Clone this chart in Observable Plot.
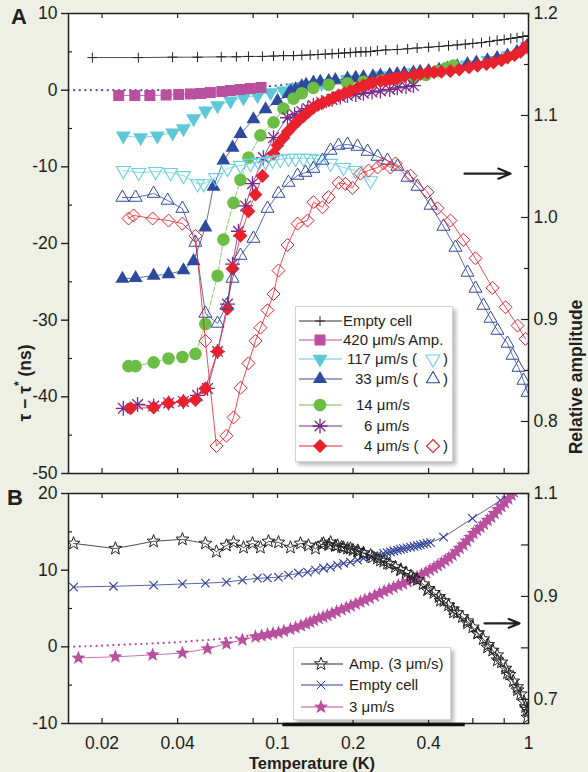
<!DOCTYPE html>
<html><head><meta charset="utf-8">
<script src="https://cdn.jsdelivr.net/npm/d3@7"></script>
<script src="https://cdn.jsdelivr.net/npm/@observablehq/plot@0.6"></script>
<style>
html,body{margin:0;padding:0;background:#eef0e5;}
#wrap{position:relative;width:588px;height:772px;background:#eef0e5;overflow:hidden;
  font-family:"Liberation Sans",Arial,Helvetica,sans-serif;color:#231f20;}
#wrap > svg text{font-size:17.5px;font-family:"Liberation Sans",Arial,Helvetica,sans-serif;}
.txt{position:absolute;white-space:nowrap;font-weight:bold;line-height:1;}
.rot{transform:translate(-50%,-50%) rotate(-90deg);}
.legend{position:absolute;background:#fff;border:1px solid #d4d4d4;box-shadow:3px 3px 4px rgba(0,0,0,0.28);}
</style></head>
<body><div id="wrap"></div>
<script>
// ---------------- DATA ----------------
const xDomain = [0.0147, 1];
const xTickVals = [0.02, 0.04, 0.08, 0.1, 0.2, 0.4, 0.6, 0.8, 1];
const xLabelVals = [0.02, 0.04, 0.1, 0.2, 0.4, 1];

const tauDomainA = [-50, 10];
const tauTicksA = [-50, -40, -30, -20, -10, 0, 10];
const tauMinorA = [-45, -35, -25, -15, -5, 5];
const ampDomainA = [0.749, 1.2];
const ampTicksA = [0.8, 0.9, 1.0, 1.1, 1.2];
const ampMinorA = [0.85, 0.95, 1.05, 1.15];

const tauDomainB = [-10, 20];
const tauTicksB = [-10, 0, 10, 20];
const tauMinorB = [-5, 5, 15];
const ampDomainB = [0.653, 1.1];
const ampLabelB = [0.7, 0.9, 1.1];
const ampMinorB = [0.8, 1.0];

// Panel A — left axis (tau - tau*, ns)
const emptyA_T = [0.0183,0.0279,0.0382,0.048,0.0597,0.0686,0.0766,0.0871,0.0964,0.1057,0.1158,0.125,0.135,0.145,0.155,0.165,0.175,0.185,0.195,0.205,0.215,0.225,0.235,0.25,0.27,0.3,0.33,0.36,0.4,0.44,0.48,0.52,0.56,0.6,0.65,0.7,0.75,0.8,0.85,0.9,0.95,1.0];
const emptyA_tau = [4.25,4.25,4.3,4.3,4.35,4.35,4.4,4.4,4.45,4.5,4.5,4.55,4.6,4.65,4.7,4.75,4.8,4.85,4.9,4.95,5.0,5.0,5.05,5.15,5.25,5.3,5.4,5.5,5.6,5.7,5.8,5.9,6.0,6.1,6.2,6.35,6.5,6.6,6.75,6.85,7.0,7.1];

const dotA_T = [0.0147,0.03,0.05,0.07,0.085,0.1,0.116,0.14,0.17,0.2];
const dotA_tau = [0,0,0.05,0.2,0.4,0.6,0.85,1.1,1.4,1.7];

const c117_T = [0.0243,0.0285,0.0332,0.0382,0.0422,0.0463,0.0516,0.0577,0.065,0.0732,0.0832,0.0938,0.1056,0.1158,0.13,0.15,0.19,0.26,0.35,0.48,0.57,0.69,0.83,0.99];
const c117_tau = [-5.95,-6.2,-5.95,-5.55,-5.0,-3.7,-2.7,-2.0,-1.4,-1.0,-0.7,-0.3,-0.1,0.3,0.6,0.9,1.4,1.9,2.3,2.8,3.3,3.9,4.5,5.7];

const b33_T = [0.0241,0.0272,0.0321,0.0368,0.0422,0.0463,0.0516,0.0556,0.0609,0.0662,0.0712,0.0802,0.0896,0.1,0.1106,0.113,0.118,0.125,0.13,0.139,0.148,0.16,0.17,0.19,0.205,0.22,0.24,0.257,0.28,0.3,0.32,0.348,0.37,0.4,0.44,0.476,0.52,0.571,0.62,0.686,0.75,0.825,0.9,0.95,0.99];
const b33_tau = [-24.6,-24.5,-24.2,-24.0,-23.5,-22.3,-17.9,-12.6,-9.2,-7.5,-5.7,-3.8,-2.5,-1.4,-0.5,-0.2,0.1,0.5,0.7,1.0,1.1,1.2,1.3,1.5,1.6,1.7,1.8,1.9,2.0,2.1,2.2,2.3,2.4,2.5,2.65,2.8,3.1,3.4,3.6,3.9,4.2,4.5,5.0,5.4,5.8];

const g14_T = [0.0255,0.0272,0.0321,0.0368,0.0418,0.0471,0.0516,0.0577,0.0609,0.0668,0.0712,0.0766,0.0855,0.0964,0.1056,0.1158,0.125,0.139,0.16,0.19,0.22,0.26,0.3,0.348,0.39,0.434,0.47,0.503];
const g14_tau = [-36.0,-36.0,-35.5,-35.0,-34.8,-34.4,-30.5,-24.2,-19.5,-14.7,-11.7,-8.8,-5.9,-4.2,-2.4,-1.1,-0.4,0.3,0.7,0.9,1.1,1.3,1.5,1.6,2.0,2.5,2.9,3.2];

const p6_T = [0.0243,0.0277,0.0321,0.0368,0.0422,0.048,0.0526,0.0577,0.0632,0.0662,0.0699,0.0746,0.0795,0.0879,0.0964,0.1096,0.117,0.125,0.132,0.139,0.15,0.165,0.178,0.19,0.205,0.22,0.238,0.257,0.28,0.3,0.325,0.348];
const p6_tau = [-41.5,-41.0,-41.2,-40.8,-40.6,-39.8,-38.9,-34.1,-27.9,-22.7,-18.4,-15.1,-12.2,-8.8,-6.2,-3.6,-3.2,-2.8,-2.4,-2.0,-1.6,-1.2,-0.9,-0.7,-0.55,-0.4,-0.25,-0.1,0.1,0.3,0.45,0.6];

const r4_T = [0.026,0.0321,0.0368,0.0422,0.0471,0.0516,0.0577,0.0632,0.0662,0.0712,0.0766,0.0817,0.0871,0.0964,0.1,0.1056,0.11,0.1158,0.121,0.127,0.133,0.139,0.145,0.152,0.16,0.1671,0.175,0.185,0.195,0.2084,0.22,0.23,0.24,0.2572,0.27,0.28,0.29,0.3006,0.32,0.35,0.37,0.396,0.42,0.45,0.4889,0.53,0.58,0.6262,0.68,0.7254,0.78,0.8249,0.88,0.93,0.973];
const r4_tau = [-41.5,-41.4,-40.8,-40.6,-40.4,-38.9,-34.1,-28.5,-23.3,-19.0,-15.8,-13.6,-11.2,-8.3,-7.2,-6.2,-5.4,-4.6,-4.0,-3.4,-2.8,-2.3,-1.9,-1.6,-1.3,-1.0,-0.7,-0.4,-0.1,0.3,0.6,0.8,1.0,1.2,1.3,1.4,1.5,1.6,1.8,2.0,2.1,2.3,2.35,2.4,2.5,2.7,3.0,3.2,3.4,3.6,3.9,4.25,4.6,5.0,5.6];

// Panel A — right axis (relative amplitude)
const sq420_T = [0.0233,0.027,0.031,0.036,0.0404,0.045,0.0495,0.054,0.06,0.065,0.071,0.078,0.086];
const sq420_amp = [1.1196,1.1196,1.1196,1.1201,1.1206,1.1211,1.1216,1.1225,1.1235,1.1245,1.1255,1.1265,1.1275];

const c117a_T = [0.0243,0.028,0.0327,0.0375,0.0422,0.048,0.0508,0.0567,0.0632,0.0712,0.078,0.084,0.0896,0.0955,0.1026,0.1106,0.118,0.127,0.1353,0.1456,0.1627,0.1832,0.2046,0.2347];
const c117a_amp = [1.046,1.044,1.045,1.044,1.041,1.033,1.033,1.039,1.048,1.051,1.053,1.054,1.055,1.056,1.057,1.058,1.058,1.058,1.058,1.057,1.053,1.049,1.046,1.036];

const b33a_T = [0.0241,0.0272,0.0321,0.0365,0.0418,0.0471,0.0516,0.0577,0.0626,0.0662,0.0712,0.0802,0.0912,0.1009,0.1106,0.1202,0.1293,0.139,0.1511,0.1627,0.175,0.19,0.2084,0.2284,0.2503,0.2743,0.3006,0.3296,0.3612,0.4071,0.4585,0.5118,0.5715,0.6148,0.6617,0.7058,0.7523,0.8249,0.8636,0.9124,0.955,0.9909];
const b33a_amp = [1.0196,1.0196,1.0235,1.0167,1.0088,0.9755,0.9059,0.8961,0.9137,0.9402,0.9627,0.9794,1.0088,1.0235,1.0343,1.0412,1.0441,1.048,1.0559,1.0657,1.0706,1.0716,1.0696,1.0647,1.0598,1.0559,1.05,1.0392,1.0304,1.0118,0.9912,0.9706,0.9461,0.9304,0.9137,0.901,0.8892,0.8765,0.8647,0.8529,0.8402,0.8284];

const r4a_T = [0.0255,0.0267,0.0318,0.0368,0.0418,0.0471,0.0516,0.0571,0.0626,0.0668,0.0712,0.0766,0.0817,0.0855,0.0912,0.0964,0.1009,0.1096,0.1202,0.1317,0.139,0.1511,0.1596,0.175,0.1866,0.1989,0.2141,0.2305,0.2503,0.2644,0.2819,0.2953,0.3388,0.396,0.4339,0.4889,0.55,0.6148,0.7187,0.81,0.9042,0.973];
const r4a_amp = [0.999,1.002,0.999,0.997,0.994,0.982,0.879,0.776,0.786,0.804,0.833,0.857,0.879,0.892,0.909,0.925,0.948,0.973,0.994,0.997,1.015,1.010,1.020,1.034,1.033,1.029,1.043,1.046,1.049,1.053,1.049,1.053,1.041,1.025,1.009,0.997,0.978,0.960,0.931,0.912,0.894,0.881];

// Panel B — left axis
const emptyB_T = [0.0154,0.0222,0.0321,0.0418,0.0516,0.0626,0.0725,0.0832,0.0912,0.1009,0.1106,0.1213,0.1317,0.1417,0.1525,0.1627,0.1734,0.1832,0.1953,0.2084,0.2201,0.2347,0.2503,0.2644,0.273,0.2819,0.291,0.3006,0.309,0.3177,0.328,0.3388,0.35,0.3612,0.371,0.3817,0.394,0.4071,0.4585,0.598,0.7735,0.8713];
const emptyB_tau = [7.8,7.9,8.05,8.2,8.3,8.45,8.7,8.95,9.0,9.1,9.35,9.6,9.75,10.0,10.25,10.4,10.65,10.9,11.05,11.3,11.55,11.7,11.95,12.2,12.3,12.4,12.5,12.6,12.7,12.8,12.9,13.0,13.1,13.2,13.3,13.4,13.5,13.6,14.3,16.75,19.1,20.1];

const starB_T = [0.0161,0.0226,0.0318,0.0418,0.0526,0.0626,0.0725,0.0817,0.0865,0.0912,0.096,0.1009,0.106,0.1126,0.118,0.124,0.13,0.135,0.14,0.146,0.152,0.158,0.165,0.172,0.18,0.188,0.196,0.205,0.214,0.223,0.233,0.244,0.255,0.266,0.278,0.29,0.303,0.316,0.33,0.345,0.36,0.375,0.39,0.405,0.42,0.435,0.45,0.466,0.482,0.498,0.515,0.532,0.55,0.568,0.586,0.604,0.624,0.644,0.665,0.687,0.71,0.733,0.757,0.78,0.805,0.83,0.855];
const starB_tau = [-1.45,-1.3,-1.05,-0.8,-0.25,0.4,0.9,1.3,1.45,1.6,1.75,1.85,2.05,2.3,2.5,2.75,3.0,3.2,3.45,3.7,3.9,4.1,4.35,4.6,4.85,5.1,5.35,5.6,5.85,6.1,6.35,6.65,6.95,7.25,7.5,7.75,8.0,8.25,8.5,8.8,9.1,9.4,9.7,10.0,10.3,10.6,10.9,11.25,11.6,11.95,12.4,12.85,13.3,13.8,14.3,14.8,15.2,15.6,16.0,16.5,16.9,17.4,17.9,18.3,18.8,19.3,19.8];

const dotB_T = [0.0147,0.02,0.03,0.04,0.05,0.06,0.07,0.08,0.09];
const dotB_tau = [0,0.15,0.4,0.6,0.85,1.05,1.3,1.5,1.7];

// Panel B — right axis (amplitude, 3 µm/s), two sweeps
const ampB_T = [0.0154,0.0226,0.0321,0.0418,0.0516,0.0571,0.0626,0.0668,0.0732,0.0795,0.0855,0.092,0.1009,0.1126,0.1235,0.1329,0.1417,0.1525,0.1627,0.1734,0.1832,0.1953,0.2084,0.2201,0.239,0.2572,0.2743,0.309,0.3482,0.396,0.4459,0.5027,0.5715,0.6262,0.6867,0.7523,0.8249,0.9042,0.973,0.9909];
const ampB_amp = [1.003,0.993,1.007,1.011,1.003,0.987,0.999,1.005,0.995,1.003,0.995,1.007,1.005,0.995,1.003,0.999,0.993,1.003,1.005,0.999,0.995,0.993,0.989,0.984,0.976,0.970,0.964,0.951,0.935,0.912,0.892,0.869,0.848,0.828,0.801,0.776,0.751,0.718,0.685,0.665];
const ampB2_T = [0.15,0.16,0.17,0.18,0.19,0.2,0.21,0.22,0.235,0.25,0.265,0.28,0.295,0.31,0.325,0.34,0.36,0.38,0.4,0.42,0.44,0.46,0.48,0.5,0.52,0.545,0.57,0.6,0.63,0.66,0.69,0.72,0.75,0.78,0.81,0.84,0.87,0.9,0.93,0.96,0.99,1.0];
const ampB2_amp = [1.001,1.000,0.998,0.996,0.993,0.990,0.987,0.984,0.980,0.974,0.968,0.963,0.957,0.952,0.946,0.940,0.932,0.924,0.915,0.907,0.899,0.891,0.883,0.875,0.868,0.860,0.852,0.840,0.829,0.817,0.806,0.795,0.786,0.772,0.760,0.748,0.735,0.724,0.710,0.695,0.680,0.676];

// annotations
const arrowA = [{x1: 0.556, x2: 0.848, y: 1.043}];
const arrowB = [{x1: 0.668, x2: 0.921, y: 0.8476}];
const bottomBarB = [{from: 0.105, to: 0.56, y: -10}];

// ---------------- STYLE ----------------
const ink = "#231f20";
const font = "'Liberation Sans', Arial, Helvetica, sans-serif";
const col = {cyan:"#5ec8d8", cyanOpen:"#6ccfdf", blue:"#2e4a9e", green:"#6cbd45", purple:"#7a2a8a",
  red:"#e9212c", magenta:"#b94f9f", blueB:"#2f3d96"};

const W = 588, ML = 68, MR = 60;
const plotW = W - ML - MR;
const decadePx = plotW / Math.log10(xDomain[1] / xDomain[0]);

const zip = (xs, ys) => xs.map((x, i) => ({T: x, v: ys[i]}));

const h = s => Math.sqrt(s / Math.PI);
const SYM = {
  square: {draw(c, s){ const r=h(s); c.moveTo(-r,-r); c.lineTo(r,-r); c.lineTo(r,r); c.lineTo(-r,r); c.closePath(); }},
  triUp: {draw(c, s){ const r=h(s), H=r*Math.sqrt(3); c.moveTo(0,-2*H/3); c.lineTo(r,H/3); c.lineTo(-r,H/3); c.closePath(); }},
  triDown: {draw(c, s){ const r=h(s), H=r*Math.sqrt(3); c.moveTo(0,2*H/3); c.lineTo(r,-H/3); c.lineTo(-r,-H/3); c.closePath(); }},
  diamond: {draw(c, s){ const r=h(s); c.moveTo(0,-r); c.lineTo(r,0); c.lineTo(0,r); c.lineTo(-r,0); c.closePath(); }},
  plus: {draw(c, s){ const r=h(s); c.moveTo(-r,0); c.lineTo(r,0); c.moveTo(0,-r); c.lineTo(0,r); }},
  times: {draw(c, s){ const r=h(s)/Math.SQRT2; c.moveTo(-r,-r); c.lineTo(r,r); c.moveTo(-r,r); c.lineTo(r,-r); }},
  ast: {draw(c, s){ const r=h(s), d=r/Math.SQRT2; c.moveTo(-r,0); c.lineTo(r,0); c.moveTo(0,-r); c.lineTo(0,r);
        c.moveTo(-d,-d); c.lineTo(d,d); c.moveTo(-d,d); c.lineTo(d,-d); }},
  star: {draw(c, s){ const R=h(s), ri=R*0.42; for (let i=0;i<10;i++){ const a=-Math.PI/2+i*Math.PI/5, rr=i%2?ri:R;
        const x=rr*Math.cos(a), y=rr*Math.sin(a); if(i===0) c.moveTo(x,y); else c.lineTo(x,y);} c.closePath(); }}
};

function series(data, o) {
  const out = [];
  if (o.line !== false) out.push(Plot.line(data, {x:"T", y:"v", stroke:o.lineColor||o.color, strokeWidth:o.lw||0.8,
      strokeDasharray:o.dash, clip:true}));
  out.push(Plot.dot(data, {x:"T", y:"v", symbol:SYM[o.symbol]||o.symbol, r:o.r,
      fill:o.fill||"none", stroke:o.stroke||"none", strokeWidth:o.sw||1, clip:true}));
  return out;
}
function dotted(data, color) {
  return Plot.line(data, {x:"T", y:"v", stroke:color, strokeWidth:2.2, strokeDasharray:"0.1,5.5",
    strokeLinecap:"round", clip:true});
}

function frameTicks(yDom, plotH, yTicks, yMinor) {
  const dy = (yDom[1]-yDom[0]) * 5 / plotH;
  const xIn = xDomain[0] * 10 ** (4 / decadePx);
  return [
    Plot.ruleX(xTickVals, {x:d=>d, y1:yDom[0], y2:yDom[0]+dy, stroke:ink, strokeWidth:1.2}),
    Plot.ruleX(xTickVals, {x:d=>d, y1:yDom[1], y2:yDom[1]-dy, stroke:ink, strokeWidth:1.2}),
    Plot.ruleY(yMinor, {y:d=>d, x1:xDomain[0], x2:xIn, stroke:ink, strokeWidth:1.2}),
    Plot.axisY({anchor:"left", ticks:yTicks, tickSize:7, tickPadding:4, tickFormat:d=>String(d), label:null,
      fontSize:17.5, stroke:ink, strokeWidth:1.4, fill:ink})
  ];
}
function rightTicks(major, minor, fmtTicks) {
  const xMaj = xDomain[1] / 10 ** (7 / decadePx), xMin = xDomain[1] / 10 ** (4 / decadePx);
  return [
    Plot.ruleY(major, {y:d=>d, x1:xDomain[1], x2:xMaj, stroke:ink, strokeWidth:1.2}),
    Plot.ruleY(minor, {y:d=>d, x1:xDomain[1], x2:xMin, stroke:ink, strokeWidth:1.2}),
    Plot.axisY({anchor:"right", ticks:fmtTicks, tickSize:0, tickPadding:5, tickFormat:d3.format(".1f"), label:null,
      fontSize:17.5, fill:ink})
  ];
}
const styleObj = {background:"transparent", fontFamily:font, fontSize:"17.5px", color:ink, overflow:"visible"};

// ---------------- PANEL A ----------------
const hA = 480, mtA = 13, mbA = 7, plotHA = hA - mtA - mbA;
const aLeft = Plot.plot({
  width:W, height:hA, marginLeft:ML, marginRight:MR, marginTop:mtA, marginBottom:mbA, style:styleObj,
  x:{type:"log", domain:xDomain, axis:null}, y:{domain:tauDomainA, axis:null, label:null},
  marks:[
    Plot.frame({fill:"white", stroke:"none"}),
    ...series(zip(emptyA_T, emptyA_tau), {color:"#222", symbol:"plus", r:5, stroke:"#222", sw:1}),
    dotted(zip(dotA_T, dotA_tau), "#3a55a8"),
    ...series(zip(c117_T, c117_tau), {color:col.cyan, symbol:"triDown", r:7.5, fill:col.cyan}),
    ...series(zip(b33_T, b33_tau), {color:col.blue, symbol:"triUp", r:7, fill:col.blue}),
    ...series(zip(g14_T, g14_tau), {color:col.green, symbol:"circle", r:6.3, fill:col.green, dash:"5,2"}),
    ...series(zip(p6_T, p6_tau), {color:col.purple, symbol:"ast", r:7.5, stroke:col.purple, sw:1.3}),
    ...series(zip(r4_T, r4_tau), {color:col.red, symbol:"diamond", r:7, fill:col.red}),
    ...frameTicks(tauDomainA, plotHA, tauTicksA, tauMinorA)
  ]
});
const aRight = Plot.plot({
  width:W, height:hA, marginLeft:ML, marginRight:MR, marginTop:mtA, marginBottom:mbA, style:styleObj,
  x:{type:"log", domain:xDomain, axis:null}, y:{domain:ampDomainA, axis:null, label:null},
  marks:[
    ...series(zip(sq420_T, sq420_amp), {color:col.magenta, symbol:"square", r:5.5, fill:col.magenta}),
    ...series(zip(c117a_T, c117a_amp), {color:col.cyanOpen, symbol:"triDown", r:7, stroke:col.cyanOpen, sw:1.1}),
    ...series(zip(b33a_T, b33a_amp), {color:col.blue, symbol:"triUp", r:6.5, stroke:col.blue, sw:1}),
    ...series(zip(r4a_T, r4a_amp), {color:col.red, symbol:"diamond", r:6.5, stroke:col.red, sw:1}),
    Plot.arrow(arrowA, {x1:"x1", x2:"x2", y1:"y", y2:"y", stroke:ink, strokeWidth:2.2, headLength:9, headAngle:45}),
    ...rightTicks(ampTicksA, ampMinorA, ampTicksA),
    Plot.frame({stroke:ink, strokeWidth:1.5})
  ]
});

// ---------------- PANEL B ----------------
const hB = 292, mtB = 13, mbB = 49, plotHB = hB - mtB - mbB;
const bLeft = Plot.plot({
  width:W, height:hB, marginLeft:ML, marginRight:MR, marginTop:mtB, marginBottom:mbB, style:styleObj,
  x:{type:"log", domain:xDomain, axis:null}, y:{domain:tauDomainB, axis:null, label:null},
  marks:[
    Plot.frame({fill:"white", stroke:"none"}),
    dotted(zip(dotB_T, dotB_tau), col.magenta),
    ...series(zip(emptyB_T, emptyB_tau), {color:col.blueB, symbol:"times", r:6, stroke:col.blueB, sw:1.1}),
    ...series(zip(starB_T, starB_tau), {color:col.magenta, symbol:"star", r:7.5, fill:col.magenta}),
    ...frameTicks(tauDomainB, plotHB, tauTicksB, tauMinorB),
    Plot.axisX({anchor:"bottom", ticks:xLabelVals, tickSize:0, tickPadding:13.5, tickFormat:d=>String(d), label:null,
      fontSize:17.5, fill:ink})
  ]
});
const bRight = Plot.plot({
  width:W, height:hB, marginLeft:ML, marginRight:MR, marginTop:mtB, marginBottom:mbB, style:styleObj,
  x:{type:"log", domain:xDomain, axis:null}, y:{domain:ampDomainB, axis:null, label:null},
  marks:[
    ...series(zip(ampB_T, ampB_amp), {color:"#222", symbol:"star", r:6.8, stroke:"#222", sw:1}),
    ...series(zip(ampB2_T, ampB2_amp), {color:"#222", symbol:"star", r:6.8, stroke:"#222", sw:1}),
    Plot.arrow(arrowB, {x1:"x1", x2:"x2", y1:"y", y2:"y", stroke:ink, strokeWidth:2.2, headLength:9, headAngle:45}),
    ...rightTicks(ampLabelB.concat(ampMinorB), [], ampLabelB),
    Plot.frame({stroke:ink, strokeWidth:1.5})
  ]
});
const bBar = Plot.plot({
  width:W, height:hB, marginLeft:ML, marginRight:MR, marginTop:mtB, marginBottom:mbB, style:styleObj,
  x:{type:"log", domain:xDomain, axis:null}, y:{domain:tauDomainB, axis:null, label:null},
  marks:[Plot.ruleY(bottomBarB, {y:"y", x1:"from", x2:"to", stroke:"#111", strokeWidth:3.5, dy:1})]
});

const wrap = document.getElementById("wrap");
function place(el, top){ el.style.position="absolute"; el.style.left="0px"; el.style.top=top+"px"; wrap.appendChild(el); }
place(aLeft, 0); place(aRight, 0);
place(bLeft, 480); place(bRight, 480); place(bBar, 480);

// ---------------- TEXT LABELS ----------------
function label(text, css, cls){ const d=document.createElement("div"); d.className="txt "+(cls||""); d.innerHTML=text;
  Object.assign(d.style, css); wrap.appendChild(d); return d; }
label("A", {left:"11px", top:"6px", fontSize:"22px"});
label("B", {left:"7px", top:"487px", fontSize:"22px"});
label("τ − τ<sup style='font-size:12px;position:relative;top:-1px'>*</sup> (ns)", {left:"24px", top:"383px", fontSize:"17.5px"}, "rot");
label("Relative amplitude", {left:"577px", top:"377px", fontSize:"17.5px"}, "rot");
label("Temperature (K)", {left:"312px", top:"755px", fontSize:"16.5px", transform:"translateX(-50%)"});

// ---------------- LEGENDS ----------------
const legendA = [
  {text:"Empty cell", tx:47, y:14, color:"#333", sym:"plus", r:5, stroke:"#222"},
  {text:"420 μm/s Amp.", tx:47, y:33, color:col.magenta, sym:"square", r:5.5, fill:col.magenta},
  {text:"117 μm/s (", tx:51, y:52, color:col.cyan, sym:"triDown", r:7.5, fill:col.cyan, open:{sym:"triDown", r:7, stroke:col.cyanOpen}},
  {text:"33 μm/s (", tx:59, y:72, color:col.blue, sym:"triUp", r:7, fill:col.blue, open:{sym:"triUp", r:6.5, stroke:col.blue}},
  {text:"14 μm/s", tx:60, y:98, color:col.green, sym:"circle", r:6.3, fill:col.green},
  {text:"6 μm/s", tx:68, y:119, color:col.purple, sym:"ast", r:7.5, stroke:col.purple},
  {text:"4 μm/s (", tx:68, y:139, color:col.red, sym:"diamond", r:7, fill:col.red, open:{sym:"diamond", r:6.5, stroke:col.red}}
];
const legendB = [
  {text:"Amp. (3 μm/s)", tx:55, y:16, color:"#222", sym:"star", r:6.8, stroke:"#222"},
  {text:"Empty cell", tx:55, y:37, color:col.blueB, sym:"times", r:6, stroke:col.blueB},
  {text:"3 μm/s", tx:55, y:59, color:col.magenta, sym:"star", r:7.5, fill:col.magenta}
];
function symPath(name, r){
  const s = Math.PI*r*r;
  if (name === "circle") return d3.symbol(d3.symbolCircle, s)();
  return d3.symbol(SYM[name], s)();
}
function drawLegend(rows, box, lx1, lx2, sx, parenSym, parenTxt){
  const div = document.createElement("div"); div.className="legend";
  Object.assign(div.style, {left:box.left+"px", top:box.top+"px", width:box.w+"px", height:box.h+"px"});
  wrap.appendChild(div);
  const svg = d3.select(div).append("svg").attr("width", box.w).attr("height", box.h)
    .style("position","absolute").style("left","0").style("top","0")
    .style("font-family", font).style("font-size","15px");
  for (const r of rows) {
    svg.append("line").attr("x1", lx1).attr("x2", lx2).attr("y1", r.y).attr("y2", r.y)
      .attr("stroke", r.color).attr("stroke-width", 1);
    svg.append("path").attr("d", symPath(r.sym, r.r)).attr("transform", `translate(${sx},${r.y})`)
      .attr("fill", r.fill || "none").attr("stroke", r.stroke || "none").attr("stroke-width", r.sym==="ast"?1.3:1);
    svg.append("text").attr("x", r.tx).attr("y", r.y).attr("dy", "0.36em").attr("fill", ink).text(r.text);
    if (r.open) {
      svg.append("path").attr("d", symPath(r.open.sym, r.open.r)).attr("transform", `translate(${parenSym},${r.y})`)
        .attr("fill", "none").attr("stroke", r.open.stroke).attr("stroke-width", 1.1);
      svg.append("text").attr("x", parenTxt).attr("y", r.y).attr("dy", "0.36em").attr("fill", ink).text(")");
    }
  }
}
drawLegend(legendA, {left:295, top:306, w:156, h:154}, 3, 46, 24, 137, 147);
drawLegend(legendB, {left:293, top:647, w:156, h:71}, 7, 49, 27, 0, 0);
</script>
</body></html>
